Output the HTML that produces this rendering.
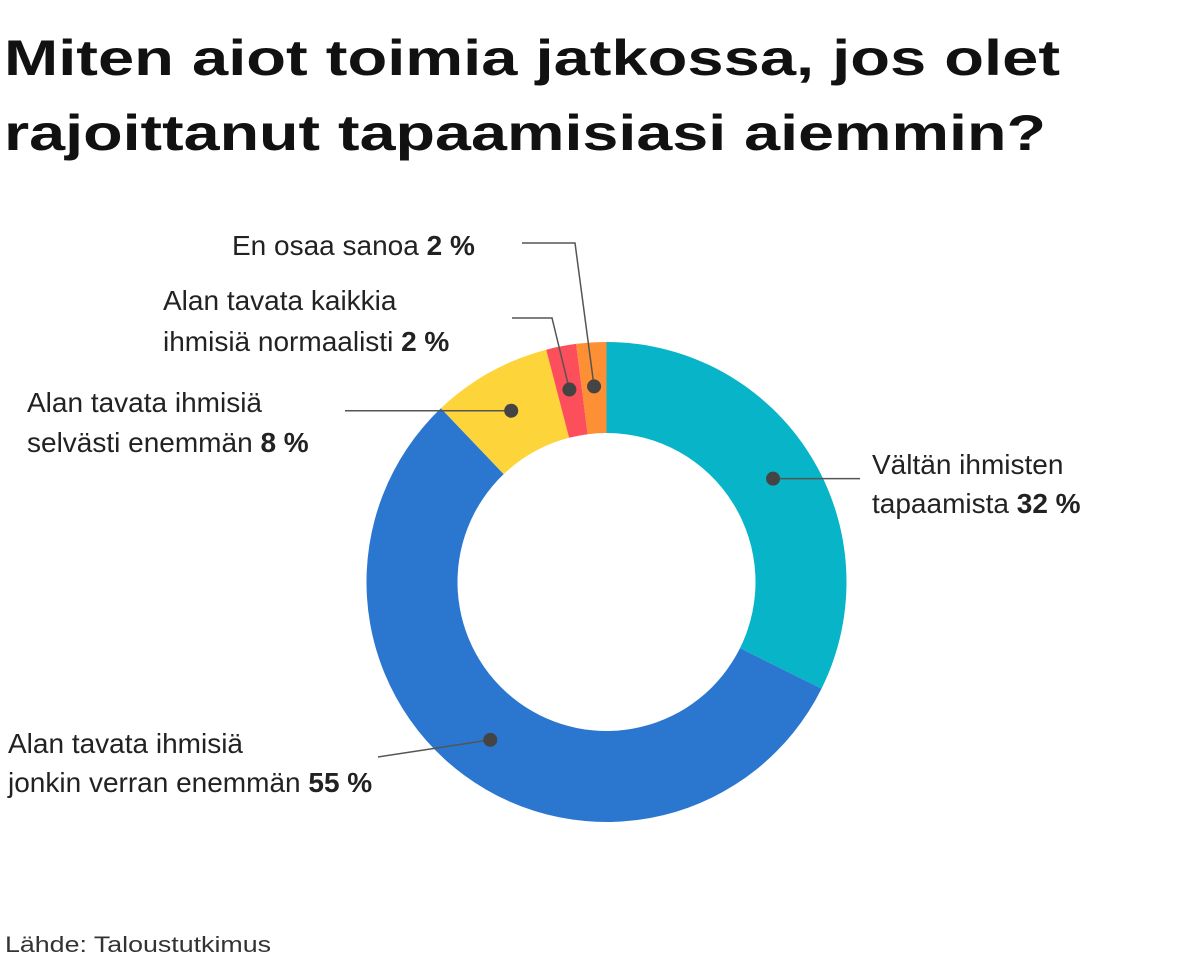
<!DOCTYPE html>
<html><head><meta charset="utf-8"><style>
html,body{margin:0;padding:0;background:#fff;}
svg{display:block;font-family:"Liberation Sans",Arial,sans-serif;}
</style></head><body>
<svg width="1199" height="974" viewBox="0 0 1199 974">
<g font-weight="bold" font-size="50" fill="#111">
<text x="4" y="75" textLength="1056" lengthAdjust="spacingAndGlyphs">Miten aiot toimia jatkossa, jos olet</text>
<text x="4" y="150" textLength="1042" lengthAdjust="spacingAndGlyphs">rajoittanut tapaamisiasi aiemmin?</text>
</g>
<g id="slices"></g>
<g id="labels" font-size="28" fill="#222"></g>
<text x="5" y="952" font-size="22" fill="#333" textLength="266" lengthAdjust="spacingAndGlyphs">Lähde: Taloustutkimus</text>
</svg>
<script>
const categories = ["Vältän ihmisten tapaamista","Alan tavata ihmisiä jonkin verran enemmän","Alan tavata ihmisiä selvästi enemmän","Alan tavata kaikkia ihmisiä normaalisti","En osaa sanoa"];
const values = [32,55,8,2,2];
const valueLabels = ["32 %","55 %","8 %","2 %","2 %"];
const colors = ["#07b4c8","#2b77d0","#fdd43a","#fd4e5c","#fd8f34"];
const NS="http://www.w3.org/2000/svg";
const cx=606.5, cy=582, R=240, r=149, rd=196;
const total=values.reduce((a,b)=>a+b,0);
function pt(rad,frac){const a=frac*2*Math.PI;return [cx+rad*Math.sin(a),cy-rad*Math.cos(a)];}
const gs=document.getElementById('slices');
let cum=0;const dots=[];
values.forEach((v,i)=>{
  const f0=cum/total, f1=(cum+v)/total; cum+=v;
  const [x0,y0]=pt(R,f0),[x1,y1]=pt(R,f1),[x2,y2]=pt(r,f1),[x3,y3]=pt(r,f0);
  const large=(f1-f0)>0.5?1:0;
  const p=document.createElementNS(NS,'path');
  p.setAttribute('d',`M${x0},${y0}A${R},${R} 0 ${large} 1 ${x1},${y1}L${x2},${y2}A${r},${r} 0 ${large} 0 ${x3},${y3}Z`);
  p.setAttribute('fill',colors[i]);
  
  
  gs.appendChild(p);
  dots.push(pt(rd,(f0+f1)/2));
});
const gl=document.getElementById('labels');
// label layout: [lines, x, baselines, connector endpoints]
const layout=[
  {lines:["Vältän ihmisten","tapaamista "],x:872,y:[474,513],path:(d)=>`M${d[0]},${d[1]}L860,${d[1]}`},
  {lines:["Alan tavata ihmisiä","jonkin verran enemmän "],x:8,y:[753,792],path:(d)=>`M${d[0]},${d[1]}L378,757`},
  {lines:["Alan tavata ihmisiä","selvästi enemmän "],x:27,y:[412,452],path:(d)=>`M${d[0]},${d[1]}L345,${d[1]}`},
  {lines:["Alan tavata kaikkia","ihmisiä normaalisti "],x:163,y:[310,351],path:(d)=>`M${d[0]},${d[1]}L552,318L512,318`},
  {lines:["En osaa sanoa "],x:232,y:[255],path:(d)=>`M${d[0]},${d[1]}L575,243L522,243`}
];
layout.forEach((L,i)=>{
  const d=dots[i];
  const ln=document.createElementNS(NS,'path');
  ln.setAttribute('d',L.path(d));
  ln.setAttribute('stroke','#555');ln.setAttribute('stroke-width','1.5');ln.setAttribute('fill','none');
  
  
  gl.appendChild(ln);
  const c=document.createElementNS(NS,'circle');
  c.setAttribute('cx',d[0]);c.setAttribute('cy',d[1]);c.setAttribute('r',7);c.setAttribute('fill','#444');
  
  
  gl.appendChild(c);
  L.lines.forEach((t,j)=>{
    const tx=document.createElementNS(NS,'text');
    tx.setAttribute('x',L.x);tx.setAttribute('y',L.y[j]);
    
    
    tx.appendChild(document.createTextNode(t));
    if(j===L.lines.length-1){
      const b=document.createElementNS(NS,'tspan');
      b.setAttribute('font-weight','bold');
      b.textContent=valueLabels[i];
      tx.appendChild(b);
    }
    gl.appendChild(tx);
  });
});
</script>
</body></html>
